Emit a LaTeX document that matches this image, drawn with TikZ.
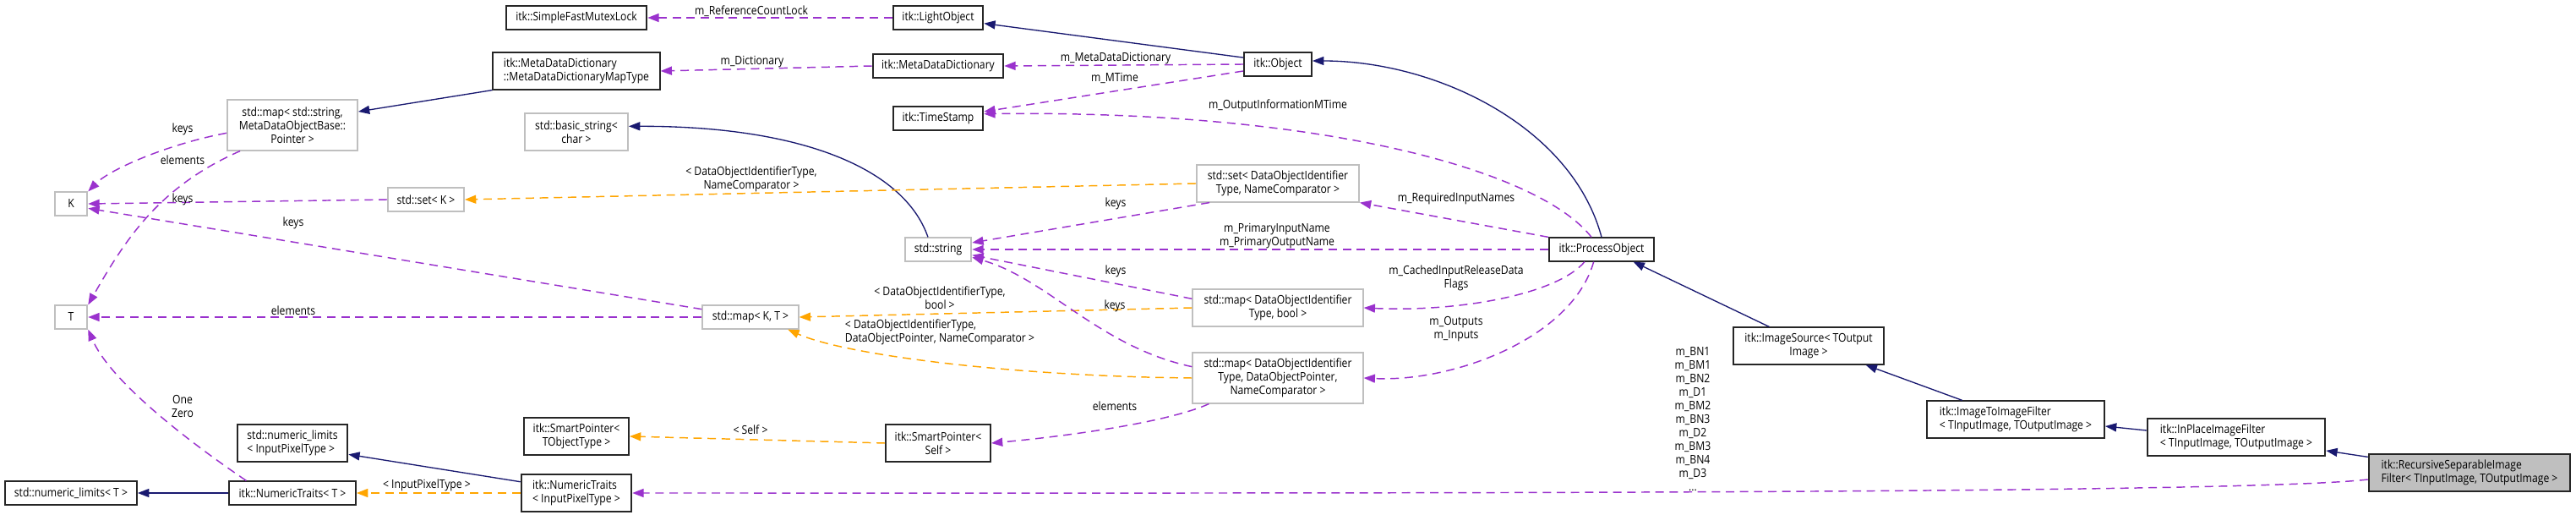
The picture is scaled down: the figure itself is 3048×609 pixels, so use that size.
\documentclass[tikz,border=0pt]{standalone}
\usepackage{fontspec}
\setmainfont{Open Sans}[FakeStretch=0.87]
\usetikzlibrary{arrows.meta,calc}
\definecolor{edgeblue}{HTML}{191970}
\definecolor{edgepurple}{HTML}{9A32CD}
\definecolor{edgeorange}{HTML}{FFA500}
\definecolor{boxgray}{HTML}{BFBFBF}
\tikzset{
  cls/.style={draw=black!85,line width=1.4pt,inner xsep=3pt,inner ysep=1pt,font=\fontsize{10.5}{12}\selectfont,align=center},
  undoc/.style={cls,draw=boxgray},
  lft/.style={align=left},
  one/.style={minimum height=20.5pt},
  two/.style={minimum height=32.5pt},
  three/.style={minimum height=44.5pt},
  inherit/.style={edgeblue,line width=1pt,-{Triangle[length=10pt,width=7.5pt]}},
  uses/.style={edgepurple,line width=1.1pt,dash pattern=on 7.5pt off 5pt,-{Triangle[length=10pt,width=7.5pt]}},
  tmpl/.style={edgeorange,line width=1.1pt,dash pattern=on 7.5pt off 5pt,-{Triangle[length=10pt,width=7.5pt]}},
  lbl/.style={font=\fontsize{10.5}{12}\selectfont,align=center,inner sep=0pt}
}

\begin{document}
\begin{tikzpicture}[x=0.75pt,y=-0.75pt]
\useasboundingbox (0,0) rectangle (3048,609);
\node[cls,one,minimum width=125pt] (sfml) at (682,21) {itk::SimpleFastMutexLock};
\node[cls,one,minimum width=80pt] (lo) at (1110,21) {itk::LightObject};
\node[cls,two,lft,minimum width=148pt] (mdm) at (682,84) {itk::MetaDataDictionary\\::MetaDataDictionaryMapType};
\node[cls,one,minimum width=116pt] (mdd) at (1110,78) {itk::MetaDataDictionary};
\node[cls,one,minimum width=60pt] (obj) at (1512,76) {itk::Object};
\node[undoc,three,minimum width=115.5pt] (msp) at (346,148) {std::map< std::string,\\ MetaDataObjectBase::\\Pointer >};
\node[undoc,two,minimum width=91.5pt] (bs) at (682,156) {std::basic\_string<\\char >};
\node[cls,one,minimum width=80pt] (ts) at (1110,140) {itk::TimeStamp};
\node[undoc,one,minimum width=29pt] (k) at (84,241) {K};
\node[undoc,one,minimum width=67.5pt] (sk) at (504,236) {std::set< K >};
\node[undoc,two,minimum width=144pt] (sdoit) at (1512,217) {std::set< DataObjectIdentifier\\Type, NameComparator >};
\node[undoc,one,minimum width=59pt] (str) at (1110,295) {std::string};
\node[cls,one,minimum width=93pt] (po) at (1895,295) {itk::ProcessObject};
\node[undoc,one,minimum width=29pt] (t) at (84,375) {T};
\node[undoc,one,minimum width=85pt] (mkt) at (888,375) {std::map< K, T >};
\node[undoc,two,minimum width=151pt] (mb) at (1512,364) {std::map< DataObjectIdentifier\\Type, bool >};
\node[undoc,three,minimum width=151pt] (md) at (1512,447) {std::map< DataObjectIdentifier\\Type, DataObjectPointer,\\NameComparator >};
\node[cls,two,minimum width=134pt] (is) at (2140,409) {itk::ImageSource< TOutput\\Image >};
\node[cls,two,lft,minimum width=157.5pt] (i2i) at (2385,496) {itk::ImageToImageFilter\\< TInputImage, TOutputImage >};
\node[cls,two,lft,minimum width=158pt] (ip) at (2646,517) {itk::InPlaceImageFilter\\< TInputImage, TOutputImage >};
\node[cls,two,lft,minimum width=179pt,fill=boxgray] (rec) at (2922,559) {itk::RecursiveSeparableImage\\Filter< TInputImage, TOutputImage >};
\node[cls,two,minimum width=93pt] (spt) at (682,516) {itk::SmartPointer<\\TObjectType >};
\node[cls,two,minimum width=93pt] (sps) at (1110,524) {itk::SmartPointer<\\Self >};
\node[cls,two,lft,minimum width=98pt] (nli) at (346,524) {std::numeric\_limits\\< InputPixelType >};
\node[cls,one,minimum width=117pt] (nlt) at (84,583) {std::numeric\_limits< T >};
\node[cls,one,minimum width=112.5pt] (ntt) at (346,583) {itk::NumericTraits< T >};
\node[cls,two,lft,minimum width=98pt] (nti) at (682,583) {itk::NumericTraits\\< InputPixelType >};

\draw[uses] (lo.west) -- (sfml.east);
\draw[inherit] ([yshift=-5pt]obj.north west) -- ([yshift=-5pt]lo.east);
\draw[inherit] (mdm.south west) -- ([yshift=12pt]msp.east);
\draw[uses] (mdd.west) -- (mdm.east);
\draw[uses] (obj.west) -- (mdd.east);
\draw[uses] ([yshift=-6pt]obj.west) -- ([yshift=6pt]ts.east);
\draw[uses] ([xshift=-9pt]po.north) .. controls (1820,200) and (1560,130) .. ([yshift=4pt]ts.east);
\draw[inherit] (po.north) .. controls (1860,150) and (1700,72) .. ([yshift=3pt]obj.east);
\draw[inherit] ([xshift=-9pt]str.north) .. controls (1070,200) and (950,149) .. ([yshift=5pt]bs.east);
\draw[uses] ([yshift=-7pt]msp.west) .. controls (200,170) and (130,200) .. (k.north east);
\draw[uses] ([xshift=12pt]msp.south west) .. controls (190,220) and (150,280) .. (t.north east);
\draw[uses] (sk.west) -- (k.east);
\draw[uses] ([yshift=7pt]mkt.west) -- ([yshift=-4pt]k.east);
\draw[uses] (mkt.west) -- (t.east);
\draw[tmpl] (sdoit.west) -- (sk.east);
\draw[uses] ([xshift=12pt]sdoit.south west) -- ([yshift=6pt]str.east);
\draw[uses] (po.north west) -- (sdoit.south east);
\draw[uses] (po.west) -- (str.east);
\draw[uses] ([yshift=8pt]mb.west) -- ([yshift=-5pt]str.east);
\draw[tmpl] (mb.west) -- (mkt.east);
\draw[uses] ([yshift=10pt]md.west) .. controls (1300,410) and (1240,330) .. ([yshift=-7pt]str.east);
\draw[tmpl] (md.west) .. controls (1200,445) and (1000,420) .. ([xshift=-10pt]mkt.south east);
\draw[uses] ([xshift=15pt]md.south west) .. controls (1380,500) and (1260,516) .. (sps.east);
\draw[tmpl] (sps.west) -- (spt.east);
\draw[uses] ([xshift=-15pt]po.south) .. controls (1840,350) and (1720,369) .. (mb.east);
\draw[uses] ([xshift=-7pt]po.south) .. controls (1860,400) and (1720,452) .. (md.east);
\draw[inherit] ([xshift=-35pt]is.north) -- ([xshift=-19pt]po.south east);
\draw[inherit] ([xshift=32pt]i2i.north west) -- ([xshift=-17pt]is.south east);
\draw[inherit] ([yshift=6pt]ip.west) -- ([yshift=-6pt]i2i.east);
\draw[inherit] ([yshift=-3pt]rec.north west) -- ([yshift=5pt]ip.south east);
\draw[uses] ([yshift=-6pt]rec.west) .. controls (2650,585) and (1500,583) .. (nti.east);
\draw[tmpl] (nti.west) -- (ntt.east);
\draw[inherit] ([yshift=-7pt]nti.north west) -- ([yshift=-10pt]nli.east);
\draw[inherit] (ntt.west) -- (nlt.east);
\draw[uses] ([xshift=16pt]ntt.north west) .. controls (220,520) and (130,450) .. (t.south east);

\node[lbl] (lrcl) at (889,13) {m\_ReferenceCountLock};
\node[lbl] (ldict) at (890,73) {m\_Dictionary};
\node[lbl] (lmdd) at (1320,69) {m\_MetaDataDictionary};
\node[lbl] (lmt) at (1319,92) {m\_MTime};
\node[lbl] (loimt) at (1512,125) {m\_OutputInformationMTime};
\node[lbl] (lkeysa) at (216,153) {keys};
\node[lbl] (lelema) at (216,189) {elements};
\node[lbl] (lkeysb) at (216,236) {keys};
\node[lbl] (lkeysc) at (347,264) {keys};
\node[lbl] (lelemb) at (347,367) {elements};
\node[lbl] (lsetk) at (889,212) {< DataObjectIdentifierType,\\NameComparator >};
\node[lbl] (lkeysd) at (1320,241) {keys};
\node[lbl] (lrin) at (1723,235) {m\_RequiredInputNames};
\node[lbl] (lpname) at (1511,279) {m\_PrimaryInputName\\m\_PrimaryOutputName};
\node[lbl] (lkeyse) at (1320,321) {keys};
\node[lbl] (lmapb) at (1112,352) {< DataObjectIdentifierType,\\bool >};
\node[lbl] (lkeysf) at (1319,362) {keys};
\node[lbl,align=left] (lmapp) at (1112,393) {< DataObjectIdentifierType,\\DataObjectPointer, NameComparator >};
\node[lbl] (lelemc) at (1319,480) {elements};
\node[lbl] (lself) at (888,508) {< Self >};
\node[lbl] (lcache) at (1723,329) {m\_CachedInputReleaseData\\Flags};
\node[lbl] (lio) at (1723,389) {m\_Outputs\\m\_Inputs};
\node[lbl] (lbn) at (2003,496) {m\_BN1\\m\_BM1\\m\_BN2\\m\_D1\\m\_BM2\\m\_BN3\\m\_D2\\m\_BM3\\m\_BN4\\m\_D3\\...};
\node[lbl] (lipt) at (505,574) {< InputPixelType >};
\node[lbl] (lone) at (216,480) {One\\Zero};
\end{tikzpicture}
\end{document}
